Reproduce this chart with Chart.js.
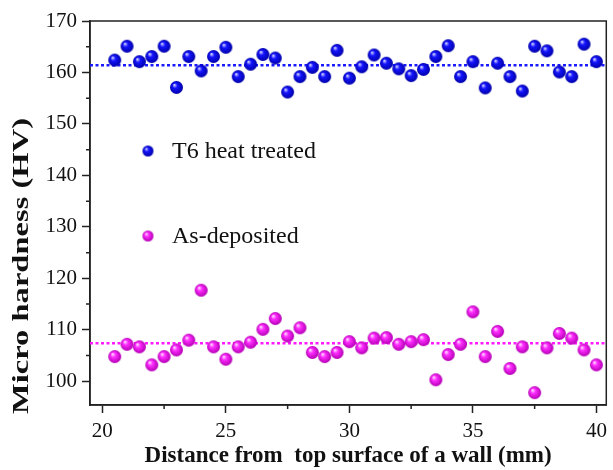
<!DOCTYPE html>
<html>
<head>
<meta charset="utf-8">
<script src="https://cdn.jsdelivr.net/npm/chart.js@4.4.1/dist/chart.umd.min.js"></script>
<style>
  html, body { margin: 0; padding: 0; background: #fff; }
  #wrap { width: 613px; height: 470px; }
</style>
</head>
<body>
<div id="wrap"><canvas id="hardnessChart" width="613" height="470"></canvas></div>
<script>
// values
const distance = [20.5, 21, 21.5, 22, 22.5, 23, 23.5, 24, 24.5, 25,
                  25.5, 26, 26.5, 27, 27.5, 28, 28.5, 29, 29.5, 30,
                  30.5, 31, 31.5, 32, 32.5, 33, 33.5, 34, 34.5, 35,
                  35.5, 36, 36.5, 37, 37.5, 38, 38.5, 39, 39.5, 40];
const t6Hardness = [162.4, 165.1, 162.1, 163.1, 165.1, 157.1, 163.1, 160.3, 163.1, 164.9,
                    159.2, 161.6, 163.5, 162.8, 156.2, 159.2, 161.0, 159.2, 164.3, 158.9,
                    161.1, 163.4, 161.8, 160.7, 159.4, 160.6, 163.1, 165.2, 159.2, 162.1,
                    157.0, 161.8, 159.2, 156.4, 165.1, 164.2, 160.1, 159.2, 165.5, 162.1];
const asDepHardness = [104.8, 107.2, 106.7, 103.2, 104.8, 106.1, 108.0, 117.7, 106.7, 104.3,
                       106.7, 107.6, 110.1, 112.2, 108.8, 110.4, 105.6, 104.8, 105.6, 107.7,
                       106.5, 108.4, 108.5, 107.2, 107.7, 108.1, 100.3, 105.2, 107.2, 113.5,
                       104.8, 109.7, 102.5, 106.7, 97.8, 106.5, 109.3, 108.4, 106.1, 103.2];
const t6Mean = 161.4;
const asDepMean = 107.4;
const xRange = [19.5, 40.4];
const yRange = [95.4, 170];
const xTickValues = [20, 25, 30, 35, 40];
const yTickValues = [100, 110, 120, 130, 140, 150, 160, 170];
const seriesNames = ['T6 heat treated', 'As-deposited'];
const yTitle = 'Micro hardness (HV)';

const FONT = '"Liberation Serif", "Times New Roman", serif';

// shaded ball marker, like the original figure
function makeBall(r, light, base, dark) {
    const c = document.createElement('canvas');
    c.width = c.height = 2 * r + 2;
    const g = c.getContext('2d');
    const m = r + 1;
    const grad = g.createRadialGradient(m - r * 0.35, m - r * 0.4, r * 0.05, m, m, r);
    grad.addColorStop(0, light);
    grad.addColorStop(0.35, base);
    grad.addColorStop(1, dark);
    g.fillStyle = grad;
    g.beginPath();
    g.arc(m, m, r, 0, Math.PI * 2);
    g.fill();
    return c;
}

const blueBall = makeBall(6.5, '#d8d8ff', '#1414ff', '#0000a8');
const pinkBall = makeBall(6.5, '#ffe0ff', '#ff2cff', '#b400b4');
const blueBallSmall = makeBall(5.5, '#d8d8ff', '#1414ff', '#0000a8');
const pinkBallSmall = makeBall(5.5, '#ffe0ff', '#ff2cff', '#b400b4');

// box frame + minor ticks
const framePlugin = {
    id: 'frame',
    beforeDatasetsDraw(chart) {
        const { ctx, chartArea: a, scales } = chart;
        ctx.save();
        ctx.strokeStyle = '#222';
        ctx.lineWidth = 1.5;
        ctx.strokeRect(a.left, a.top, a.right - a.left, a.bottom - a.top);
        ctx.beginPath();
        for (let v = 22.5; v < xRange[1]; v += 5) {
            const px = scales.x.getPixelForValue(v);
            ctx.moveTo(px, a.bottom);
            ctx.lineTo(px, a.bottom + 4);
        }
        for (let v = 105; v < yRange[1]; v += 10) {
            const py = scales.y.getPixelForValue(v);
            ctx.moveTo(a.left, py);
            ctx.lineTo(a.left - 4, py);
        }
        ctx.stroke();
        ctx.restore();
    }
};

// legend inside the plot + the stretched y title of the original
const innerLegend = {
    id: 'innerLegend',
    afterDraw(chart) {
        const { ctx, chartArea: a } = chart;
        const items = [
            { img: blueBallSmall, text: seriesNames[0], y: a.top + 130 },
            { img: pinkBallSmall, text: seriesNames[1], y: a.top + 215 }
        ];
        ctx.save();
        ctx.font = '24px ' + FONT;
        ctx.fillStyle = '#111';
        ctx.textBaseline = 'middle';
        items.forEach(it => {
            ctx.drawImage(it.img, a.left + 58 - it.img.width / 2, it.y - it.img.height / 2);
            ctx.fillText(it.text, a.left + 82, it.y + 1);
        });

        ctx.font = 'bold 23px ' + FONT;
        ctx.textAlign = 'center';
        const w = ctx.measureText(yTitle).width;
        ctx.translate(22, 266);
        ctx.rotate(-Math.PI / 2);
        ctx.scale(296 / w, 1);
        ctx.fillText(yTitle, 0, 0);
        ctx.restore();
    }
};

const ctx = document.getElementById('hardnessChart').getContext('2d');
new Chart(ctx, {
    type: 'scatter',
    data: {
        datasets: [
            {
                label: seriesNames[0],
                data: distance.map((d, i) => ({ x: d, y: t6Hardness[i] })),
                pointStyle: blueBall,
                order: 1
            },
            {
                label: seriesNames[1],
                data: distance.map((d, i) => ({ x: d, y: asDepHardness[i] })),
                pointStyle: pinkBall,
                order: 1
            },
            {
                type: 'line',
                label: 'T6 mean',
                data: [{ x: xRange[0], y: t6Mean }, { x: xRange[1], y: t6Mean }],
                borderColor: '#1a1aff',
                borderWidth: 2.5,
                borderDash: [3, 2.5],
                pointRadius: 0,
                order: 2
            },
            {
                type: 'line',
                label: 'As-deposited mean',
                data: [{ x: xRange[0], y: asDepMean }, { x: xRange[1], y: asDepMean }],
                borderColor: '#ff1aff',
                borderWidth: 2.5,
                borderDash: [3, 2.5],
                pointRadius: 0,
                order: 2
            }
        ]
    },
    options: {
        responsive: false,
        animation: false,
        layout: { padding: { top: 21, right: 2, left: 0, bottom: 0 } },
        plugins: {
            legend: { display: false },
            tooltip: { enabled: false }
        },
        scales: {
            x: {
                type: 'linear',
                min: xRange[0],
                max: xRange[1],
                afterBuildTicks: s => { s.ticks = xTickValues.map(v => ({ value: v })); },
                afterFit: s => { s.height = 65; },
                grid: { drawOnChartArea: false, drawTicks: true, tickLength: 8, tickWidth: 1.5, tickColor: '#222' },
                border: { display: true, color: '#222', width: 1.5 },
                ticks: { color: '#111', font: { family: FONT, size: 21 }, padding: 6, maxRotation: 0 },
                title: {
                    display: true,
                    text: 'Distance from  top surface of a wall (mm)',
                    color: '#111',
                    font: { family: FONT, size: 23, weight: 'bold' },
                    padding: { top: 0, bottom: 0 }
                }
            },
            y: {
                type: 'linear',
                min: yRange[0],
                max: yRange[1],
                afterBuildTicks: s => { s.ticks = yTickValues.map(v => ({ value: v })); },
                afterFit: s => { s.width = 90; },
                grid: { drawOnChartArea: false, drawTicks: true, tickLength: 8, tickWidth: 1.5, tickColor: '#222' },
                border: { display: true, color: '#222', width: 1.5 },
                ticks: { color: '#111', font: { family: FONT, size: 21 }, padding: 5 },
                title: { display: false }
            }
        }
    },
    plugins: [framePlugin, innerLegend]
});
</script>
</body>
</html>
